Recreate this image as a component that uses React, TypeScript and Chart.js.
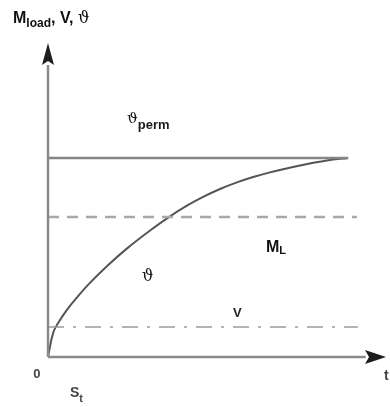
import React, { useEffect, useRef } from "react";
import { Chart, registerables } from "chart.js";

Chart.register(...registerables);

// ---- data (arbitrary units: time 0..100, quantity 0..100) ----
const curveTime = [0, 1.5, 3.0, 5.6, 8.6, 12.4, 17.5, 23.4, 30.2, 36.1, 41.1, 45.9, 50.9, 55.9, 60.7, 65.7, 72.5, 77.5, 82.5, 88.8];
const curveTemp = [0, 7.6, 10.8, 15.0, 19.0, 23.6, 29.0, 34.6, 40.3, 44.8, 48.2, 51.0, 53.5, 55.6, 57.3, 58.8, 60.5, 61.6, 62.6, 63.4];
const permLevel = 63.4;
const permEnd = 88.8;
const loadLevel = 44.6;
const loadEnd = 91.4;
const lossLevel = 9.55;
const lossEnd = 91.7;
const axisMax = 100;
const xAxisEnd = 94;
const yAxisEnd = 93;

const SANS = '"Liberation Sans", Arial, sans-serif';
const SERIF = '"DejaVu Serif", serif';

type Part = { t: string; font: string; dy?: number };

function drawParts(ctx: CanvasRenderingContext2D, parts: Part[], x: number, y: number, color: string) {
  ctx.save();
  ctx.fillStyle = color;
  ctx.textBaseline = "alphabetic";
  ctx.textAlign = "left";
  let cx = x;
  for (const p of parts) {
    ctx.font = p.font;
    ctx.fillText(p.t, cx, y + (p.dy || 0));
    cx += ctx.measureText(p.t).width;
  }
  ctx.restore();
}

// label anchors in data units
const labels: { x: number; y: number; parts: Part[]; color: string }[] = [
  {
    x: 23.4, y: 74.5, color: "#1a1a1a",
    parts: [
      { t: "\u03D1", font: `15px ${SERIF}` },
      { t: "perm", font: `bold 13px ${SANS}`, dy: 6 },
    ],
  },
  {
    x: 64.5, y: 33.4, color: "#111",
    parts: [
      { t: "M", font: `bold 16px ${SANS}` },
      { t: "L", font: `bold 11px ${SANS}`, dy: 2 },
    ],
  },
  { x: 27.8, y: 24.2, color: "#1a1a1a", parts: [{ t: "\u03D1", font: `16px ${SERIF}` }] },
  { x: 54.7, y: 12.7, color: "#222", parts: [{ t: "V", font: `bold 13px ${SANS}` }] },
  { x: -4.4, y: -6.7, color: "#444", parts: [{ t: "0", font: `bold 13px ${SANS}` }] },
  {
    x: 6.5, y: -12.7, color: "#444",
    parts: [
      { t: "S", font: `bold 14px ${SANS}` },
      { t: "t", font: `bold 11px ${SANS}`, dy: 5 },
    ],
  },
  { x: 99.4, y: -7.3, color: "#444", parts: [{ t: "t", font: `bold 14px ${SANS}` }] },
];

const decorPlugin = {
  id: "decor",
  afterDatasetsDraw(chart: any) {
    const ctx: CanvasRenderingContext2D = chart.ctx;
    const xs = chart.scales.x;
    const ys = chart.scales.y;
    // arrowheads
    ctx.save();
    ctx.fillStyle = "#1e1e1e";
    const tx = xs.getPixelForValue(axisMax);
    const ty = ys.getPixelForValue(0);
    ctx.beginPath();
    ctx.moveTo(tx, ty);
    ctx.lineTo(tx - 21, ty - 7);
    ctx.lineTo(tx - 17, ty);
    ctx.lineTo(tx - 21, ty + 7);
    ctx.closePath();
    ctx.fill();
    const ux = xs.getPixelForValue(0);
    const uy = ys.getPixelForValue(axisMax);
    ctx.beginPath();
    ctx.moveTo(ux, uy);
    ctx.lineTo(ux - 6, uy + 22);
    ctx.lineTo(ux, uy + 18);
    ctx.lineTo(ux + 6, uy + 22);
    ctx.closePath();
    ctx.fill();
    ctx.restore();

    // labels
    for (const l of labels) {
      drawParts(ctx, l.parts, xs.getPixelForValue(l.x), ys.getPixelForValue(l.y), l.color);
    }
    // title
    drawParts(
      ctx,
      [
        { t: "M", font: `bold 16px ${SANS}` },
        { t: "load", font: `bold 12px ${SANS}`, dy: 4 },
        { t: ", V, ", font: `bold 16px ${SANS}` },
        { t: "\u03D1", font: `16px ${SERIF}` },
      ],
      13,
      23,
      "#111"
    );
  },
};

export default function App() {
  const ref = useRef<HTMLCanvasElement>(null);
  useEffect(() => {
    if (!ref.current) return;
    const curve = curveTime.map((t, i) => ({ x: t, y: curveTemp[i] }));
    const chart = new Chart(ref.current, {
      type: "line",
      data: {
        datasets: [
          {
            label: "t axis",
            data: [{ x: 0, y: 0 }, { x: xAxisEnd, y: 0 }],
            borderColor: "#8a8a8a",
            borderWidth: 2.5,
            pointRadius: 0,
          },
          {
            label: "value axis",
            data: [{ x: 0, y: 0 }, { x: 0, y: yAxisEnd }],
            borderColor: "#8a8a8a",
            borderWidth: 2.5,
            pointRadius: 0,
          },
          {
            label: "theta perm",
            data: [{ x: 0, y: permLevel }, { x: permEnd, y: permLevel }],
            borderColor: "#858585",
            borderWidth: 2.5,
            pointRadius: 0,
          },
          {
            label: "M_L",
            data: [{ x: 0, y: loadLevel }, { x: loadEnd, y: loadLevel }],
            borderColor: "#a8a8a8",
            borderWidth: 2.5,
            borderDash: [11, 8],
            pointRadius: 0,
          },
          {
            label: "V",
            data: [{ x: 0, y: lossLevel }, { x: lossEnd, y: lossLevel }],
            borderColor: "#9a9a9a",
            borderWidth: 1.6,
            borderDash: [16, 9, 3, 9],
            pointRadius: 0,
          },
          {
            label: "theta",
            data: curve,
            borderColor: "#555",
            borderWidth: 2,
            pointRadius: 0,
            tension: 0.4,
          },
        ],
      },
      options: {
        responsive: false,
        animation: false,
        events: [],
        clip: false as any,
        layout: { padding: { left: 48, right: 4, top: 43, bottom: 50 } },
        scales: {
          x: { type: "linear", min: 0, max: axisMax, display: false },
          y: { type: "linear", min: 0, max: axisMax, display: false },
        },
        plugins: { legend: { display: false }, tooltip: { enabled: false }, title: { display: false } },
      },
      plugins: [decorPlugin],
    });
    return () => chart.destroy();
  }, []);
  return (
    <div style={{ position: "absolute", left: 0, top: 0, width: 390, height: 407, background: "#fff" }}>
      <canvas ref={ref} width={390} height={407} style={{ display: "block" }} />
    </div>
  );
}
